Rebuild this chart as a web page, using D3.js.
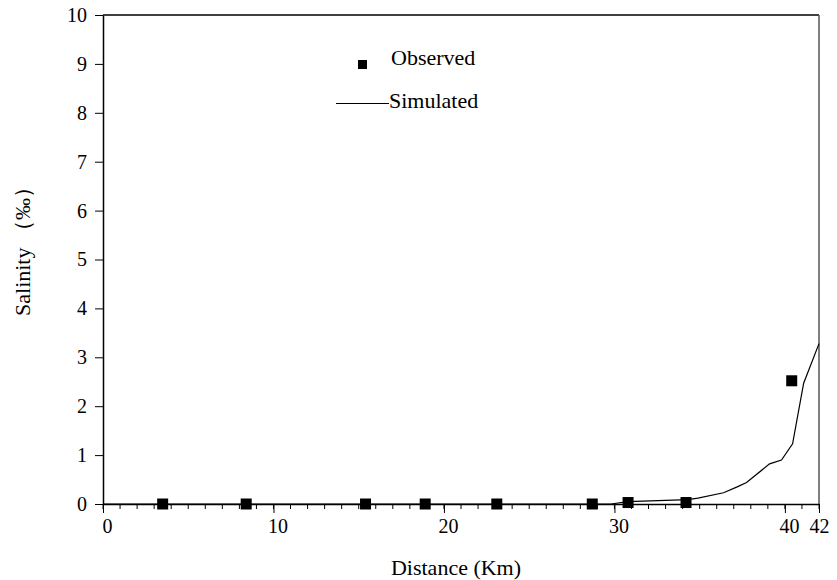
<!DOCTYPE html>
<html>
<head>
<meta charset="utf-8">
<script src="https://cdn.jsdelivr.net/npm/d3@7"></script>
<style>
  body { margin: 0; background: #fff; }
  text { font-family: "Liberation Serif", "Times New Roman", serif; fill: #000; }
</style>
</head>
<body>
<svg id="chart" width="837" height="580"></svg>
<script>
// observed stations
const obsDistance = [3.5, 8.4, 15.4, 18.9, 23.1, 28.7, 30.8, 34.2, 40.4];
const obsSalinity = [0, 0, 0, 0, 0, 0, 0.03, 0.03, 2.52];

// simulated profile
const simDistance = [0, 5, 10, 15, 20, 25, 29.8, 30.8, 34.3, 34.9, 36.4, 37.2, 37.75, 39.1, 39.8, 40.45, 41.1, 42];
const simSalinity = [0, 0, 0, 0, 0, 0, 0, 0.05, 0.09, 0.12, 0.23, 0.35, 0.44, 0.82, 0.9, 1.23, 2.47, 3.28];

const xTickValues = [0, 10, 20, 30, 40, 42];
const yTickValues = [0, 1, 2, 3, 4, 5, 6, 7, 8, 9, 10];

const margin = { left: 103, right: 18, top: 15, bottom: 76 };
const width = 837, height = 580;
const serif = '"Liberation Serif", "Times New Roman", serif';

const svg = d3.select("#chart");

const x = d3.scaleLinear().domain([0, 42]).range([margin.left, width - margin.right]);
const y = d3.scaleLinear().domain([0, 10]).range([height - margin.bottom, margin.top]);

// frame (top and right)
svg.append("line")
  .attr("x1", x(0)).attr("x2", x(42))
  .attr("y1", y(10)).attr("y2", y(10))
  .attr("stroke", "#000").attr("stroke-width", 1.5);
svg.append("line")
  .attr("x1", x(42)).attr("x2", x(42))
  .attr("y1", y(10)).attr("y2", y(0))
  .attr("stroke", "#555").attr("stroke-width", 1.5);

// minor x ticks every km
svg.append("g")
  .selectAll("line")
  .data(d3.range(0, 43))
  .join("line")
  .attr("x1", d => x(d)).attr("x2", d => x(d))
  .attr("y1", y(0)).attr("y2", y(0) + 5)
  .attr("stroke", "#000");

const xAxis = svg.append("g")
  .attr("transform", `translate(0,${y(0)})`)
  .attr("font-family", serif)
  .call(d3.axisBottom(x).tickValues(xTickValues).tickSize(9).tickSizeOuter(0).tickPadding(6));
xAxis.select(".domain").attr("stroke-width", 1.5);
xAxis.selectAll("text")
  .style("font-size", "20px")
  .attr("dx", d => d === 42 ? 0 : 4);

const yAxis = svg.append("g")
  .attr("transform", `translate(${x(0)},0)`)
  .attr("font-family", serif)
  .call(d3.axisLeft(y).tickValues(yTickValues).tickSize(8).tickSizeOuter(0).tickPadding(8));
yAxis.select(".domain").attr("stroke-width", 1.5);
yAxis.selectAll("text").style("font-size", "20px");

// simulated line
const line = d3.line().x(d => x(d[0])).y(d => y(d[1]));
svg.append("path")
  .datum(simDistance.map((d, i) => [d, simSalinity[i]]))
  .attr("d", line)
  .attr("fill", "none")
  .attr("stroke", "#000")
  .attr("stroke-width", 1.2);

// observed markers
const ms = 11;
svg.append("g")
  .selectAll("rect")
  .data(obsDistance.map((d, i) => [d, obsSalinity[i]]))
  .join("rect")
  .attr("x", d => x(d[0]) - ms / 2)
  .attr("y", d => y(d[1]) - ms / 2)
  .attr("width", ms).attr("height", ms)
  .attr("fill", "#000");

// legend
svg.append("rect").attr("x", 358).attr("y", 60).attr("width", 9).attr("height", 9).attr("fill", "#000");
svg.append("text").attr("x", 391).attr("y", 65).style("font-size", "22px").text("Observed");
svg.append("line").attr("x1", 336).attr("x2", 389).attr("y1", 103.5).attr("y2", 103.5)
  .attr("stroke", "#000").attr("stroke-width", 1.2);
svg.append("text").attr("x", 389).attr("y", 108).style("font-size", "22px").text("Simulated");

// axis titles
svg.append("text")
  .attr("x", 456).attr("y", 575)
  .attr("text-anchor", "middle")
  .style("font-size", "22px")
  .text("Distance (Km)");

svg.append("text")
  .attr("transform", "translate(30,246) rotate(-90)")
  .attr("text-anchor", "middle")
  .style("font-size", "22px")
  .text("Salinity （‰）");
</script>
</body>
</html>
